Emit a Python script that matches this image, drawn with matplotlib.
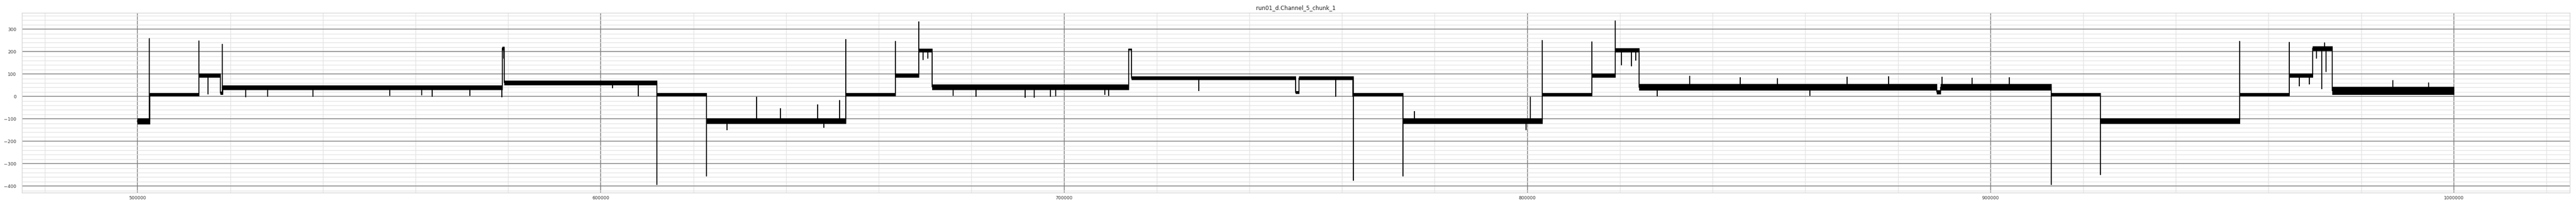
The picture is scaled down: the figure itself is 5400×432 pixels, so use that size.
import matplotlib
matplotlib.use("Agg")
import matplotlib.pyplot as plt
from matplotlib.ticker import MultipleLocator

# ---- data (sample index, current level) ----
title = "run01_d.Channel_5_chunk_1"

# plateau segments: start, end, lower and upper edge of the noise band
seg_start = [500000, 502600, 513240, 517900, 518400, 578700, 579150, 612070, 622780,
             652860, 663570, 668600, 671540, 713930, 714520, 749980, 750700, 762400,
             773140, 803200, 813930, 819000, 824120, 888370, 889220, 913100, 923680,
             953800, 964450, 969500, 973770]
seg_end = [502600, 513240, 517900, 518400, 578700, 579150, 612070, 622780, 652860,
           663570, 668600, 671540, 713930, 714520, 749980, 750700, 762400, 773140,
           803200, 813930, 819000, 824120, 888370, 889220, 913100, 923680, 953800,
           964450, 969500, 973770, 1000000]
seg_low = [-124, 3, 86, 9, 31, 207, 51, 3, -121, 3, 86, 198, 31, 207, 75, 13, 75, 3,
           -121, 3, 86, 198, 28, 11, 28, 3, -121, 3, 86, 205, 8]
seg_high = [-97, 16, 102, 21, 49, 222, 71, 16, -97, 16, 102, 214, 53, 214, 89, 23, 89,
            16, -97, 16, 102, 216, 55, 28, 55, 16, -97, 16, 102, 224, 43]

# spikes / dips (sample index, extreme value)
spike_x = [502540, 513240, 515200, 518330, 523300, 528030, 537900, 554400, 561300,
           563600, 571700, 578650, 579100, 602500, 608060, 612070, 622780, 627250,
           633600, 638750, 646800, 648100, 651570, 652860, 663570, 668600, 669600,
           670600, 676100, 681000, 691650, 693550, 697020, 698150, 708780, 709670,
           729100, 758600, 762300, 762400, 773140, 775640, 800650, 799700, 803200,
           813930, 819000, 820300, 822480, 823400, 828000, 835000, 846000, 854000,
           861000, 869000, 878000, 889500, 896000, 904000, 913100, 923680, 953800,
           964450, 966680, 968800, 970300, 971500, 972450, 972100, 986800, 994500]
spike_y = [257, 247, 10, 232, -2, 0, 0, 5, 6, 1, 5, -2, 171, 38, 3, -394, -355, -148,
           -4, -56, -37, -137, -18, 253, 245, 333, 165, 170, 5, 0, -3, -3, 0, 2, 8, 4,
           25, 0, 0, -373, -354, -67, -4, -149, 250, 243, 336, 140, 137, 163, 3, 90, 84,
           80, 5, 86, 88, 86, 82, 84, -394, -348, 245, 240, 47, 56, 170, 35, 111, 239,
           71, 60]

xlim = (475000, 1025000)
ylim = (-430, 372)

# ---- figure ----
fig = plt.figure(figsize=(54, 4.32), dpi=100)
ax = fig.add_axes([0.00843, 0.0641, 0.98911, 0.8727])
ax.set_facecolor("white")

# noisy plateau bands
for s, e, lo, hi in zip(seg_start, seg_end, seg_low, seg_high):
    ax.fill_between([s, e], [lo, lo], [hi, hi], color="black", linewidth=0.6,
                    edgecolor="black", zorder=3)

# trace: plateau centres joined at transitions, with spikes inserted
events = sorted(zip(spike_x, spike_y))
xs, ys = [], []
ei = 0
for s, e, lo, hi in zip(seg_start, seg_end, seg_low, seg_high):
    c = (lo + hi) / 2.0
    xs.append(s); ys.append(c)
    while ei < len(events) and events[ei][0] <= e:
        ex, ey = events[ei]
        xs += [ex, ex, ex]; ys += [c, ey, c]
        ei += 1
    xs.append(e); ys.append(c)
ax.plot(xs, ys, color="black", linewidth=1.5, zorder=4)

ax.set_xlim(*xlim)
ax.set_ylim(*ylim)
ax.xaxis.set_major_locator(MultipleLocator(100000))
ax.xaxis.set_minor_locator(MultipleLocator(20000))
ax.yaxis.set_major_locator(MultipleLocator(100))
ax.yaxis.set_minor_locator(MultipleLocator(20))
ax.ticklabel_format(axis="x", style="plain", useOffset=False)
ax.grid(which="major", color="#808080", linewidth=1.2, zorder=0)
ax.grid(which="minor", color="#e3e3e3", linewidth=1.0, zorder=0)
ax.set_axisbelow(True)
ax.tick_params(which="both", length=0, labelsize=6.8, labelcolor="#333333")
ax.tick_params(axis="y", pad=8)
ax.tick_params(axis="x", pad=5)
for sp in ax.spines.values():
    sp.set_color("#d4d4d4")
    sp.set_linewidth(1.0)
ax.set_title(title, fontsize=8.4, color="#262626", pad=5)

fig.savefig("out.png", dpi=100)
